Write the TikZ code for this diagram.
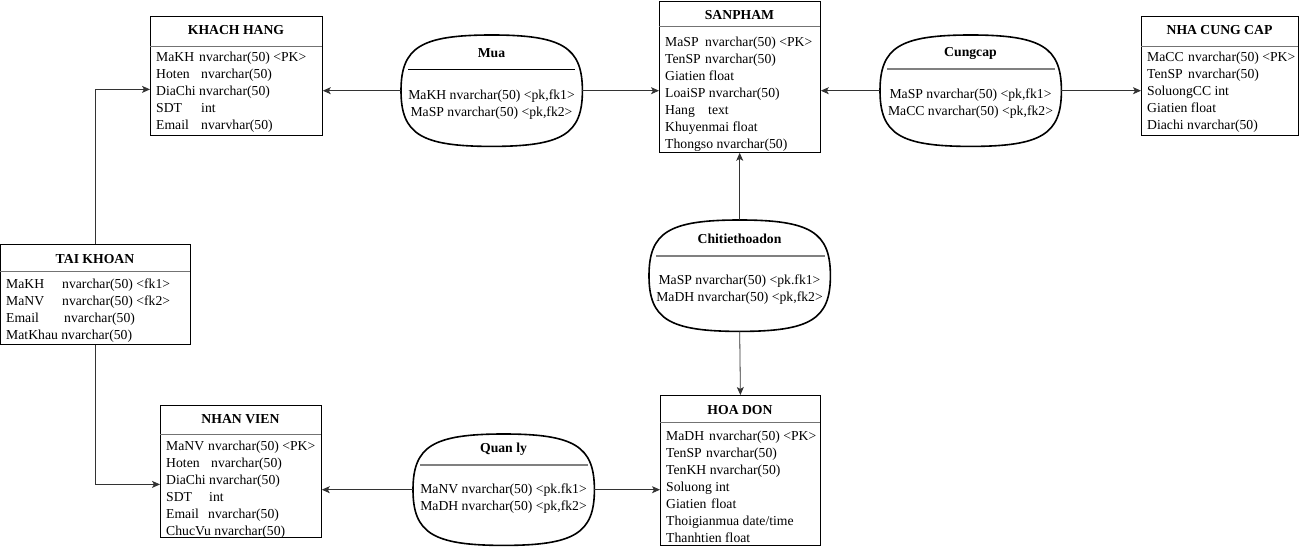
\documentclass[tikz,border=0pt]{standalone}
\usepackage{fontspec}
\setmainfont{Liberation Serif}
\usetikzlibrary{arrows.meta,calc}

% rounded outline of a relationship node
\newcommand\relshape[1]{%
  \draw[line width=1.6pt]
    (#1.north) .. controls ($(#1.north)!0.78!(#1.north east)$) and ($(#1.east)!0.78!(#1.north east)$) .. (#1.east)
    .. controls ($(#1.east)!0.78!(#1.south east)$) and ($(#1.south)!0.78!(#1.south east)$) .. (#1.south)
    .. controls ($(#1.south)!0.78!(#1.south west)$) and ($(#1.west)!0.78!(#1.south west)$) .. (#1.west)
    .. controls ($(#1.west)!0.78!(#1.north west)$) and ($(#1.north)!0.78!(#1.north west)$) .. cycle;}

\begin{document}
\begin{tikzpicture}[>={Stealth[length=8pt,width=7pt,inset=2pt]},x=1pt,y=-1pt,
    every node/.style={font=\fontsize{13.7}{17}\selectfont},
    entity/.style={draw,line width=0.8pt,anchor=north west,inner sep=0pt},
    rel/.style={anchor=north west,inner sep=0pt,minimum width=181pt,minimum height=111pt},
    title/.style={font=\fontsize{13.7}{17}\selectfont\bfseries},
    attrs/.style={anchor=north west,inner sep=0pt,align=left},
    keys/.style={inner sep=0pt,align=center},
    hline/.style={draw=black!55,line width=0.8pt},
    rline/.style={draw=black!50,line width=1.6pt},
    link/.style={->,draw=black!80,line width=0.8pt}]
    \useasboundingbox (0,0) rectangle (1301,548);

    % entities
    \node[entity,minimum width=172pt,minimum height=119pt] (kh) at (150,16) {};
    \draw[hline] (150,46) -- (322,46);
    \node[title] at (236,30) {KHACH HANG};
    \begin{scope}
      \clip (kh.north west) rectangle (kh.south east);
      \node[attrs] at (156,52) {\makebox[43pt][l]{MaKH}nvarchar(50) <PK>\\
        \makebox[45pt][l]{Hoten}nvarchar(50)\\ DiaChi nvarchar(50)\\
        \makebox[45pt][l]{SDT}int\\ \makebox[45pt][l]{Email}nvarvhar(50)};
    \end{scope}

    \node[entity,minimum width=161pt,minimum height=151pt] (sp) at (659,1) {};
    \draw[hline] (659,26) -- (820,26);
    \node[title] at (739.5,15) {SANPHAM};
    \begin{scope}
      \clip (sp.north west) rectangle (sp.south east);
      \node[attrs] at (665,37) {\makebox[40pt][l]{MaSP}nvarchar(50) <PK>\\
        \makebox[40pt][l]{TenSP}nvarchar(50)\\ Giatien float\\ LoaiSP nvarchar(50)\\
        \makebox[43pt][l]{Hang}text\\ Khuyenmai float\\ Thongso nvarchar(50)};
    \end{scope}

    \node[entity,minimum width=157pt,minimum height=119pt] (ncc) at (1141,16) {};
    \draw[hline] (1141,46) -- (1298,46);
    \node[title] at (1219.5,30) {NHA CUNG CAP};
    \begin{scope}
      \clip (ncc.north west) rectangle (ncc.south east);
      \node[attrs] at (1147,52) {\makebox[41pt][l]{MaCC}nvarchar(50) <PK>\\
        \makebox[41pt][l]{TenSP}nvarchar(50)\\ SoluongCC int\\ Giatien float\\
        Diachi nvarchar(50)};
    \end{scope}

    \node[entity,minimum width=190pt,minimum height=100pt] (tk) at (0,244) {};
    \draw[hline] (0,271) -- (190,271);
    \node[title] at (95,259) {TAI KHOAN};
    \node[attrs] at (6,279) {\makebox[56pt][l]{MaKH}nvarchar(50) <fk1>\\
      \makebox[56pt][l]{MaNV}nvarchar(50) <fk2>\\ \makebox[58pt][l]{Email}nvarchar(50)\\
      MatKhau nvarchar(50)};

    \node[entity,minimum width=161pt,minimum height=132pt] (nv) at (160,405) {};
    \draw[hline] (160,434) -- (321,434);
    \node[title] at (240.5,419) {NHAN VIEN};
    \begin{scope}
      \clip (nv.north west) rectangle (nv.south east);
      \node[attrs] at (166,441) {\makebox[42pt][l]{MaNV}nvarchar(50) <PK>\\
        \makebox[45pt][l]{Hoten}nvarchar(50)\\ DiaChi nvarchar(50)\\
        \makebox[43pt][l]{SDT}int\\ \makebox[42pt][l]{Email}nvarchar(50)\\
        ChucVu nvarchar(50)};
    \end{scope}

    \node[entity,minimum width=160pt,minimum height=150pt] (hd) at (660,395) {};
    \draw[hline] (660,422) -- (820,422);
    \node[title] at (740,410) {HOA DON};
    \begin{scope}
      \clip (hd.north west) rectangle (hd.south east);
      \node[attrs] at (666,431) {\makebox[43pt][l]{MaDH}nvarchar(50) <PK>\\
        \makebox[40pt][l]{TenSP}nvarchar(50)\\ TenKH nvarchar(50)\\ Soluong int\\
        \makebox[45pt][l]{Giatien}float\\ Thoigianmua date/time\\ Thanhtien float};
    \end{scope}

    % relationships
    \node[rel] (mua) at (401,35) {};
    \relshape{mua}
    \draw[black,line width=1pt] (408,70) -- (575,70);
    \node[title] at (491.5,53) {Mua};
    \node[keys] at (491.5,104.5) {MaKH nvarchar(50) <pk,fk1>\\ MaSP nvarchar(50) <pk,fk2>};

    \node[rel] (cc) at (880,35) {};
    \relshape{cc}
    \draw[rline] (887,69) -- (1055,69);
    \node[title] at (970.5,53) {Cungcap};
    \node[keys] at (970.5,103.5) {MaSP nvarchar(50) <pk,fk1>\\ MaCC nvarchar(50) <pk,fk2>};

    \node[rel] (ct) at (649,220) {};
    \relshape{ct}
    \draw[rline] (656,256) -- (825,256);
    \node[title] at (739.5,239) {Chitiethoadon};
    \node[keys] at (739.5,290) {MaSP nvarchar(50) <pk.fk1>\\ MaDH nvarchar(50) <pk,fk2>};

    \node[rel] (ql) at (413,434) {};
    \relshape{ql}
    \draw[rline] (420,465) -- (588,465);
    \node[title] at (503.5,449) {Quan ly};
    \node[keys] at (503.5,499) {MaNV nvarchar(50) <pk.fk1>\\ MaDH nvarchar(50) <pk,fk2>};

    % links
    \draw[link] (mua.west) -- (mua.west -| kh.east);
    \draw[link] (mua.east) -- (mua.east -| sp.west);
    \draw[link] (cc.west) -- (cc.west -| sp.east);
    \draw[link] (cc.east) -- (cc.east -| ncc.west);
    \draw[link] (ct.north) -- (ct.north |- sp.south);
    \draw[link] (ct.south) -- (hd.north);
    \draw[link] (ql.west) -- (ql.west -| nv.east);
    \draw[link] (ql.east) -- (ql.east -| hd.west);
    \draw[link] (tk.north) |- ([yshift=-13.5pt]kh.west);
    \draw[link] (tk.south) |- ([yshift=-13pt]nv.west);
  \end{tikzpicture}
\end{document}
